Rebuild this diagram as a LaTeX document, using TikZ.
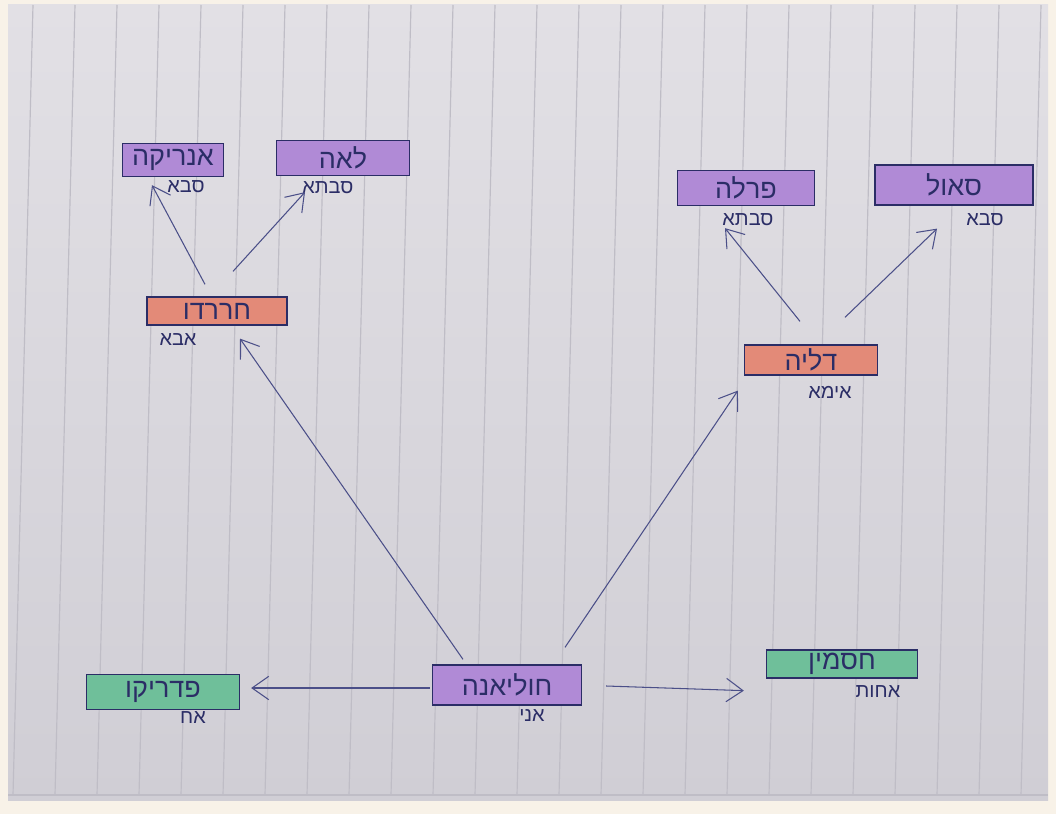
\documentclass[tikz,border=0pt]{standalone}
\usepackage{fontspec}
\newfontfamily\hebfont[Script=Hebrew]{Liberation Sans}
\TeXXeTstate=1
\usetikzlibrary{arrows.meta}
\definecolor{ink}{HTML}{2B2D66}
\definecolor{pen}{HTML}{4B4F88}
\definecolor{violetmark}{HTML}{B08AD6}
\definecolor{redmark}{HTML}{E38A78}
\definecolor{greenmark}{HTML}{6FBF9A}
\definecolor{papertop}{HTML}{E2E0E5}
\definecolor{paperbottom}{HTML}{D0CED5}
\definecolor{rule}{HTML}{BFBDC6}
\definecolor{margin}{HTML}{F8F2E8}
\newcommand{\hb}[1]{{\hebfont\beginR #1\endR}}
\tikzset{
  namebox/.style={draw=ink, line width=1.1pt, text=ink, inner sep=2pt,
    font=\fontsize{23}{25}\selectfont},
  kin/.style={text=ink, inner sep=1pt, font=\fontsize{17}{19}\selectfont},
  link/.style={draw=pen, line width=0.9pt, -{Straight Barb[length=5mm,width=7mm]}}
}
\begin{document}
\begin{tikzpicture}[x=0.03cm, y=-0.03cm]
    \useasboundingbox[fill=margin] (0,0) rectangle (1056,814);
    % notebook page
    \shade[top color=papertop, bottom color=paperbottom] (8,5) rectangle (1048,800);
    \foreach \x in {33,75,...,1060}
        \draw[rule, line width=1pt] (\x,5) -- (\x-20,795);
    \draw[rule, line width=1pt] (8,795) -- (1048,795);

    % grandparents
    \node[namebox, fill=violetmark, minimum width=3.03cm, minimum height=0.99cm] (enrique) at (173,160) {\hb{אנריקה}};
    \node[namebox, fill=violetmark, minimum width=3.99cm, minimum height=1.05cm] (leah)    at (343,158) {\hb{לאה}};
    \node[namebox, fill=violetmark, minimum width=4.11cm, minimum height=1.05cm] (perla)   at (746,188) {\hb{פרלה}};
    \node[namebox, fill=violetmark, minimum width=4.74cm, minimum height=1.2cm]  (saul)    at (954,185) {\hb{סאול}};
    \node[kin] at (186,187) {\hb{סבא}};
    \node[kin] at (328,188) {\hb{סבתא}};
    \node[kin] at (748,220) {\hb{סבתא}};
    \node[kin] at (985,220) {\hb{סבא}};

    % parents
    \node[namebox, fill=redmark, minimum width=4.2cm,  minimum height=0.84cm] (gerardo) at (217,311) {\hb{חררדו}};
    \node[namebox, fill=redmark, minimum width=3.99cm, minimum height=0.9cm]  (delia)   at (811,360) {\hb{דליה}};
    \node[kin] at (178,340) {\hb{אבא}};
    \node[kin] at (830,392) {\hb{אימא}};

    % children
    \node[namebox, fill=violetmark, minimum width=4.47cm, minimum height=1.2cm]  (juliana)  at (507,685) {\hb{חוליאנה}};
    \node[namebox, fill=greenmark,  minimum width=4.59cm, minimum height=1.05cm] (federico) at (163,692) {\hb{פדריקו}};
    \node[namebox, fill=greenmark,  minimum width=4.53cm, minimum height=0.84cm] (jazmin)   at (842,664) {\hb{חסמין}};
    \node[kin] at (532,716) {\hb{אני}};
    \node[kin] at (193,718) {\hb{אח}};
    \node[kin] at (878,692) {\hb{אחות}};

    \draw[link] ([shift={(-12,-12)}]gerardo.north) -- ([shift={(-21,8)}]enrique.south);
    \draw[link] ([shift={(16,-25)}]gerardo.north)  -- ([shift={(-38,16)}]leah.south);
    \draw[link] ([shift={(-11,-23)}]delia.north)   -- ([shift={(-21,22)}]perla.south);
    \draw[link] ([shift={(34,-27)}]delia.north)    -- ([shift={(-17,23)}]saul.south);
    \draw[link] ([shift={(-44,-5)}]juliana.north)  -- ([shift={(23,13)}]gerardo.south);
    \draw[link] ([shift={(58,-17)}]juliana.north)  -- ([shift={(-6,15)}]delia.south west);
    \draw[link] ([shift={(-2,3)}]juliana.west)     -- ([shift={(11,-4)}]federico.east);
    \draw[link] ([shift={(24,1)}]juliana.east)     -- ([shift={(-22,12)}]jazmin.south west);
\end{tikzpicture}
\end{document}
